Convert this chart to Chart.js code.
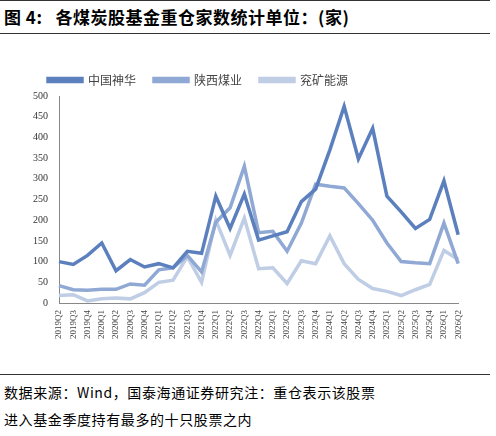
<!DOCTYPE html>
<html><head><meta charset="utf-8">
<script src="https://cdn.jsdelivr.net/npm/chart.js@4"></script>
<style>
body{margin:0;width:496px;height:436px;background:#fff;font-family:"Noto Sans CJK SC",sans-serif;position:relative;overflow:hidden}
#title{position:absolute;left:0;top:0;width:490px;height:34px;border-top:1px solid #333;border-bottom:1px solid #333;font-weight:bold;font-size:17px;line-height:32px;padding-left:4px;box-sizing:border-box;letter-spacing:0.5px}
#foot{position:absolute;left:0;top:374px;width:490px;border-top:1px solid #333;font-size:14px;line-height:27px;padding-left:4px;box-sizing:border-box;padding-top:4px;letter-spacing:0.6px}
#wrap{position:absolute;left:30px;top:56px;width:442px;height:286px}
</style></head><body>
<div id="title">图 4:&nbsp;&nbsp;&nbsp;各煤炭股基金重仓家数统计单位：(家)</div>
<div id="wrap"><canvas id="c"></canvas></div>
<div id="foot">数据来源：Wind，国泰海通证券研究注：重仓表示该股票<br>进入基金季度持有最多的十只股票之内</div>
<script>
const categories=["2019Q2","2019Q3","2019Q4","2020Q1","2020Q2","2020Q3","2020Q4","2021Q1","2021Q2","2021Q3","2021Q4","2022Q1","2022Q2","2022Q3","2022Q4","2023Q1","2023Q2","2023Q3","2023Q4","2024Q1","2024Q2","2024Q3","2024Q4","2025Q1","2025Q2","2025Q3","2025Q4","2026Q1","2026Q2"];
const shenhua=[100,93,115,145,78,105,87,95,85,125,120,258,180,263,152,162,172,245,275,370,475,348,422,258,220,180,202,295,165];
const shaanxi=[42,32,31,33,33,46,43,80,85,115,75,195,230,330,170,173,125,193,287,282,278,240,200,145,100,97,95,193,95];
const yankuang=[18,20,5,10,12,10,25,50,55,112,50,200,115,205,83,85,47,102,95,162,95,57,35,28,18,32,45,127,105];
const yTicks=[0,50,100,150,200,250,300,350,400,450,500];
new Chart(document.getElementById('c'),{type:'line',
data:{labels:categories,datasets:[
{label:'中国神华',data:shenhua,borderColor:'#5b80bd',backgroundColor:'#5b80bd'},
{label:'陕西煤业',data:shaanxi,borderColor:'#8fa8d4',backgroundColor:'#8fa8d4'},
{label:'兖矿能源',data:yankuang,borderColor:'#bfcde5',backgroundColor:'#bfcde5'}]},
options:{responsive:true,maintainAspectRatio:false,animation:false,
elements:{point:{radius:0},line:{borderWidth:3.5,tension:0}},
layout:{padding:{left:0,right:4}},
plugins:{legend:{position:'top',align:'start',labels:{boxWidth:34,boxHeight:3,font:{size:12,family:'Noto Sans CJK SC'},color:'#444',padding:18}},tooltip:{enabled:false}},
scales:{x:{grid:{display:false,drawTicks:true,tickLength:4},border:{color:'#888'},ticks:{maxRotation:90,minRotation:90,autoSkip:false,font:{size:9,family:'Liberation Serif'},color:'#444'}},
y:{min:0,max:500,afterBuildTicks:a=>{a.ticks=yTicks.map(v=>({value:v}))},grid:{display:false},border:{color:'#888'},ticks:{font:{size:10,family:'Liberation Serif'},color:'#333'}}}}});
</script></body></html>
